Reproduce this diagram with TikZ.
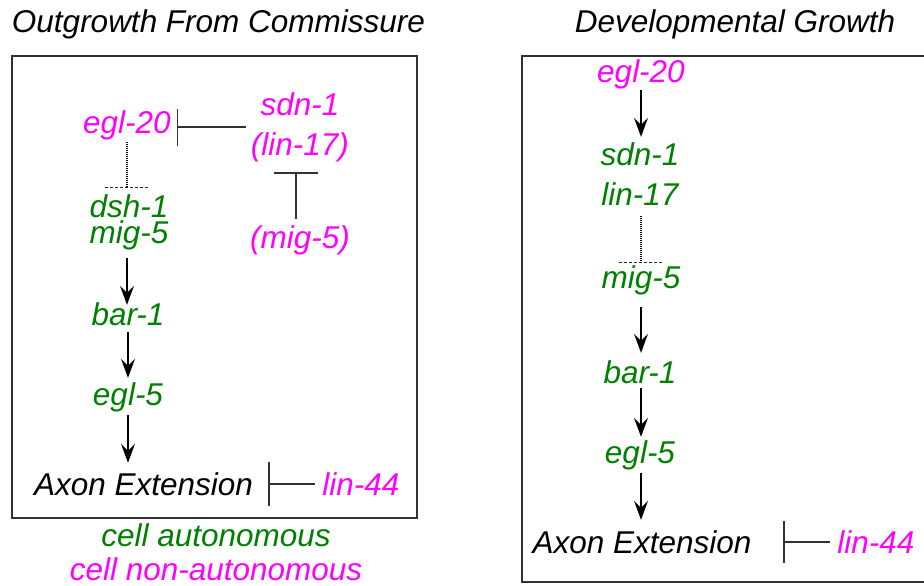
\documentclass[tikz,border=0pt]{standalone}
\usepackage{fontspec}
\setmainfont{Liberation Sans}
\usetikzlibrary{arrows.meta}
\definecolor{gn}{RGB}{0,128,0}
\definecolor{mg}{RGB}{255,0,255}
\definecolor{ln}{RGB}{50,50,50}
\tikzset{
  lbl/.style={font=\itshape\fontsize{31.5}{36}\selectfont, inner sep=0pt, anchor=base, text height=21pt, text depth=6pt},
  ttl/.style={font=\itshape\fontsize{31.5}{36}\selectfont, inner sep=0pt, anchor=base},
  gene/.style={lbl, text=gn},
  sig/.style={lbl, text=mg},
  plain/.style={lbl, text=black},
  pair/.style={font=\itshape\fontsize{31.5}{25.5}\selectfont, inner sep=0pt, align=center, text=gn},
  arr/.style={draw=black, line width=1.3pt, -{Stealth[length=19pt,width=14pt,inset=7pt]}},
  inh/.style={draw=ln, line width=1.3pt, -{Bar[width=#1]}},
  dotl/.style={draw=black, line width=1.4pt, dash pattern=on 1.2pt off 0.8pt},
  dashl/.style={draw=black!85, line width=1pt, dash pattern=on 3pt off 2pt},
  boxl/.style={draw=ln, line width=1.5pt}
}
\begin{document}
\begin{tikzpicture}[x=1pt,y=-1pt]
\useasboundingbox (0,0) rectangle (924,586);
% titles
\node[ttl] (t1) at (218.5,33) {Outgrowth From Commissure};
\node[ttl] (t2) at (735,33) {Developmental Growth};
% boxes
\draw[boxl] (12,56) rectangle (417,518);
\draw[boxl] (522,56) rectangle (927,582);

% ---- left panel
\node[sig] (legl20) at (127,133) {egl-20};
\node[sig] (lsdn) at (300,115) {sdn-1};
\node[sig] (llin) at (300,155) {(lin-17)};
\node[sig] (lmigm) at (300,248) {(mig-5)};
\node[pair] (ldm) at (129,222.5) {dsh-1\\mig-5};
\node[gene] (lbar) at (128,325) {bar-1};
\node[gene] (legl5) at (128,405) {egl-5};
\node[plain] (laxon) at (143.5,495) {Axon Extension};
\node[sig] (llin44) at (361,495) {lin-44};
\node[gene] (lauto) at (216,546) {cell autonomous};
\node[sig] (lnon) at (216,580) {cell non-autonomous};

\draw[inh=37pt, shorten <=5pt, shorten >=6.2pt] ([yshift=-1.5pt]legl20.east -| llin.west) -- ([yshift=-1.5pt]legl20.east);
\draw[inh=44pt, shorten <=8pt, shorten >=11pt] ([xshift=-4pt]lmigm.north) -- ([xshift=-4pt]lmigm.north |- llin.south);
\path ([yshift=7pt]ldm.north) coordinate (ldt);
\draw[dotl, shorten <=3pt] (legl20.south) -- (legl20.south |- ldt) coordinate (ldt2);
\draw[dashl] ([xshift=-22pt]ldt2) -- ([xshift=22pt]ldt2);
\draw[arr, shorten <=8pt, shorten >=-1pt] (legl20.south |- ldm.south) -- (legl20.south |- lbar.north);
\draw[arr, shorten <=1pt, shorten >=6pt] (lbar.south) -- (lbar.south |- legl5.north);
\draw[arr, shorten <=4pt, shorten >=11pt] (legl5.south) -- (legl5.south |- laxon.north);
\draw[inh=44pt, shorten <=7.5pt, shorten >=15.1pt] ([yshift=3.5pt]llin44.west) -- ([yshift=3.5pt]llin44.west -| laxon.east);

% ---- right panel
\node[sig] (regl20) at (641,82) {egl-20};
\node[gene] (rsdn) at (640,165) {sdn-1};
\node[gene] (rlin) at (640,205) {lin-17};
\node[gene] (rmig) at (641,288) {mig-5};
\node[gene] (rbar) at (640,383) {bar-1};
\node[gene] (regl5) at (640,463) {egl-5};
\node[plain] (raxon) at (642,553) {Axon Extension};
\node[sig] (rlin44) at (876,553) {lin-44};

\draw[arr, shorten <=2pt, shorten >=7pt] (regl20.south) -- (regl20.south |- rsdn.north);
\path ([yshift=4pt]rmig.north) coordinate (rdt);
\draw[dotl, shorten <=5pt] (rmig.north |- rlin.south) -- (rdt);
\draw[dashl] ([xshift=-22pt]rdt) -- ([xshift=22pt]rdt);
\draw[arr, shorten <=13pt, shorten >=9pt] (rmig.south) -- (rmig.south |- rbar.north);
\draw[arr, shorten <=-1pt, shorten >=5pt] (rmig.south |- rbar.south) -- (rmig.south |- regl5.north);
\draw[arr, shorten <=4pt, shorten >=12pt] (rmig.south |- regl5.south) -- (rmig.south |- raxon.north);
\draw[inh=42pt, shorten <=7.5pt, shorten >=31.6pt] ([yshift=3.5pt]rlin44.west) -- ([yshift=3.5pt]rlin44.west -| raxon.east);
\end{tikzpicture}
\end{document}
